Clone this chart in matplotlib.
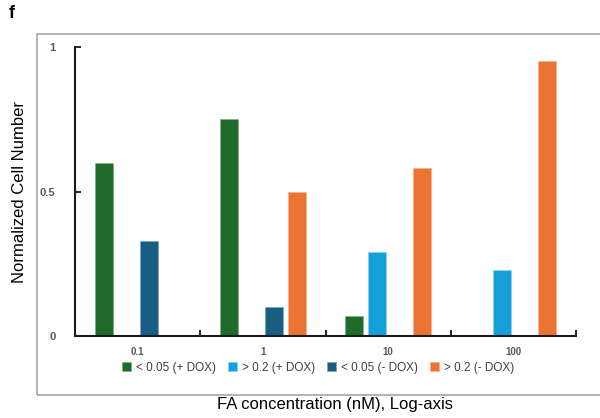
import numpy as np
import matplotlib
matplotlib.use('Agg')
from matplotlib import pyplot as plt
from matplotlib import patches

# data
conc_labels = ['0.1', '1', '10', '100']
series_names = ['< 0.05 (+ DOX)', '> 0.2 (+ DOX)', '< 0.05 (- DOX)', '> 0.2 (- DOX)']
lt005_plus = [0.60, 0.75, 0.07, np.nan]
gt02_plus = [np.nan, np.nan, 0.29, 0.23]
lt005_minus = [0.33, 0.10, np.nan, np.nan]
gt02_minus = [np.nan, 0.50, 0.58, 0.95]
colors = ['#1e6b2a', '#14a0d8', '#185e82', '#ec7433']
edges = ['#7fb08a', '#8cd0ee', '#7fa6bc', '#f6b08c']

plt.rcParams['font.family'] = ['Liberation Sans', 'DejaVu Sans']
fig = plt.figure(figsize=(6, 4.18), dpi=100)
ax = fig.add_axes([75/600, 1 - 336/418, (576 - 75)/600, (336 - 47)/418])

# outer gray frame
fig.patches.append(patches.Rectangle((37/600, 1 - 395/418), 1.0, (395 - 34)/418,
                                     transform=fig.transFigure, fill=False,
                                     edgecolor='#a6a6a6', lw=1.2))

x = np.arange(len(conc_labels))
step = 0.18
width = 0.145
all_series = [lt005_plus, gt02_plus, lt005_minus, gt02_minus]
for i, vals in enumerate(all_series):
    off = (i - 1.5) * step
    ax.bar(x + off, vals, width, color=colors[i], edgecolor=edges[i],
           linewidth=0.5, label=series_names[i])

ax.set_xlim(-0.5, 3.5)
ax.set_ylim(0, 1)
for s in ['top', 'right']:
    ax.spines[s].set_visible(False)
for s in ['left', 'bottom']:
    ax.spines[s].set_linewidth(1.5)
    ax.spines[s].set_color('#1a1a1a')

ax.set_yticks([0, 0.5, 1])
ax.set_yticklabels(['0', '0.5', '1'], fontsize=8, fontweight='bold', color='#595959')
ax.tick_params(axis='y', direction='in', length=4, width=1.2, pad=14)

ax.set_xticks(x)
ax.set_xticklabels(conc_labels, fontsize=7, fontweight='bold', color='#595959')
ax.tick_params(axis='x', which='major', length=0, pad=8)
ax.set_xticks(np.arange(-0.5, 4, 1), minor=True)
ax.tick_params(axis='x', which='minor', direction='in', length=4, width=1.2)

leg = ax.legend(loc='upper center', bbox_to_anchor=(0.485, -0.068), ncol=4,
                frameon=False, fontsize=8.5, handlelength=0.75, handleheight=0.75,
                handletextpad=0.4, columnspacing=1.05, borderpad=0)
for t in leg.get_texts():
    t.set_color('#404040')

fig.text(20/600, 1 - 192/418, 'Normalized Cell Number', rotation=90,
         ha='center', va='center', fontsize=12)
fig.text(335/600, 1 - 405/418, 'FA concentration (nM), Log-axis',
         ha='center', va='center', fontsize=12)
fig.text(12/600, 1 - 13/418, 'f', ha='center', va='center', fontsize=13,
         fontweight='bold')

fig.savefig('out.png', dpi=100)
plt.close(fig)
